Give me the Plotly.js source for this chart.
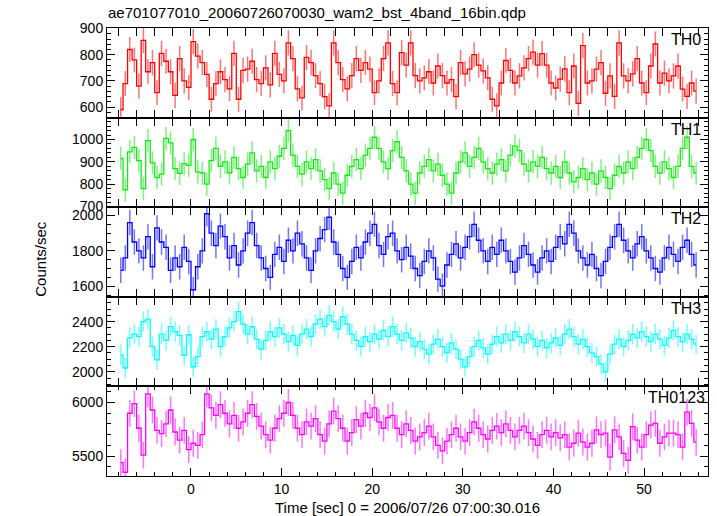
<!DOCTYPE html>
<html>
<head>
<meta charset="utf-8">
<script src="https://cdn.plot.ly/plotly-3.0.1.min.js"></script>
<style>html,body{margin:0;padding:0;background:#fff;}#chart{width:717px;height:516px;}</style>
</head>
<body>
<div id="chart"></div>
<script>
// Bin centres (seconds, relative to 2006/07/26 07:00:30.016), 0.5 s bins
const time = [-7.75,-7.25,-6.75,-6.25,-5.75,-5.25,-4.75,-4.25,-3.75,-3.25,-2.75,-2.25,-1.75,-1.25,-0.75,-0.25,
0.25,0.75,1.25,1.75,2.25,2.75,3.25,3.75,4.25,4.75,5.25,5.75,6.25,6.75,7.25,7.75,
8.25,8.75,9.25,9.75,10.25,10.75,11.25,11.75,12.25,12.75,13.25,13.75,14.25,14.75,15.25,15.75,
16.25,16.75,17.25,17.75,18.25,18.75,19.25,19.75,20.25,20.75,21.25,21.75,22.25,22.75,23.25,23.75,
24.25,24.75,25.25,25.75,26.25,26.75,27.25,27.75,28.25,28.75,29.25,29.75,30.25,30.75,31.25,31.75,
32.25,32.75,33.25,33.75,34.25,34.75,35.25,35.75,36.25,36.75,37.25,37.75,38.25,38.75,39.25,39.75,
40.25,40.75,41.25,41.75,42.25,42.75,43.25,43.75,44.25,44.75,45.25,45.75,46.25,46.75,47.25,47.75,
48.25,48.75,49.25,49.75,50.25,50.75,51.25,51.75,52.25,52.75,53.25,53.75,54.25,54.75,55.25,55.75];
const halfBin = 0.25;

const th0 = [590,690,820,780,680,855,735,770,655,805,775,735,645,785,700,675,
850,795,770,725,630,690,735,705,670,805,630,740,745,775,705,690,
750,685,805,725,700,845,785,670,635,790,770,720,690,640,605,845,
770,705,670,720,785,740,770,745,655,700,785,845,690,655,808,760,
845,720,700,712,735,692,757,720,692,705,640,770,727,745,800,760,
738,712,630,605,692,778,740,692,719,750,785,810,760,804,760,692,
673,707,746,655,757,614,835,692,700,745,770,653,719,641,845,719,
700,727,785,692,655,757,841,692,730,700,719,757,669,641,692,661];

const th1 = [915,775,945,965,905,780,995,895,830,845,1005,985,870,848,892,884,
1000,855,850,800,905,960,880,900,850,920,870,830,890,940,860,880,
830,900,870,925,960,1040,930,880,845,900,870,910,860,820,780,850,
800,760,840,880,910,870,930,960,1010,960,900,870,950,990,920,860,
800,760,850,880,910,860,890,840,800,760,850,900,940,880,920,960,
900,870,850,890,910,860,930,970,950,890,860,900,880,920,870,850,
880,830,900,850,810,830,870,820,850,800,860,830,780,840,880,850,
900,870,920,960,1000,950,880,850,900,870,830,880,960,1010,880,850];

const th2 = [1690,1760,1960,1850,1800,1760,1880,1710,1930,1850,1820,1690,1760,1710,1820,1740,
1580,1710,1800,2010,1900,1830,1940,1880,1760,1830,1720,1800,1900,1960,1830,1760,
1700,1650,1780,1820,1740,1860,1800,1900,1840,1760,1690,1800,1870,1920,1990,1850,
1780,1700,1650,1740,1820,1760,1850,1900,1950,1830,1780,1880,1900,1800,1750,1820,
1770,1700,1660,1740,1800,1760,1640,1600,1720,1780,1840,1760,1820,1880,1950,1860,
1800,1740,1820,1780,1860,1800,1740,1680,1760,1830,1780,1720,1680,1760,1800,1740,
1820,1880,1840,1950,1900,1800,1760,1720,1780,1700,1660,1740,1820,1880,1950,1860,
1800,1760,1840,1880,1800,1760,1700,1680,1760,1820,1780,1740,1820,1860,1780,1720];

const th3 = [2135,2030,2270,2300,2280,2400,2420,2200,2095,2300,2250,2360,2320,2290,2130,2295,
2040,2120,2280,2320,2260,2340,2200,2280,2350,2400,2480,2380,2300,2360,2260,2180,
2250,2320,2280,2350,2300,2240,2290,2210,2300,2340,2280,2380,2420,2360,2450,2400,
2340,2440,2380,2300,2250,2200,2280,2240,2300,2260,2330,2280,2360,2300,2250,2310,
2270,2200,2240,2180,2140,2220,2260,2200,2150,2230,2180,2100,2040,2120,2200,2250,
2190,2140,2220,2280,2230,2300,2250,2320,2280,2230,2300,2260,2200,2250,2190,2230,
2270,2210,2300,2340,2280,2220,2260,2200,2150,2120,2060,2000,2140,2220,2260,2200,
2250,2300,2270,2320,2280,2240,2300,2260,2210,2270,2330,2280,2240,2300,2260,2220];

const th0123 = [5440,5350,5900,5990,5760,5510,6080,5930,5740,5710,5800,5930,5725,5650,5740,5560,
5620,5600,5700,6080,5950,5880,5980,5900,5800,5880,5760,5820,5900,5980,5870,5780,
5700,5650,5760,5850,5900,6000,5880,5760,5700,5820,5780,5850,5700,5640,5800,5920,
5850,5760,5640,5720,5840,5780,5900,5860,5950,5820,5760,5860,5880,5760,5700,5800,
5740,5640,5680,5720,5780,5680,5600,5550,5640,5700,5760,5680,5640,5720,5820,5760,
5700,5660,5740,5780,5720,5800,5740,5680,5740,5780,5720,5660,5600,5700,5740,5680,
5720,5670,5700,5585,5620,5715,5630,5585,5620,5745,5700,5715,5490,5745,5680,5525,
5460,5775,5650,5585,5700,5790,5805,5620,5680,5715,5715,5700,5585,5910,5805,5630];

// Approximate 1-sigma error per panel (counts/sec)
const errs = [48, 52, 72, 80, 125];
const names = ['TH0','TH1','TH2','TH3','TH0123'];
const series = [th0, th1, th2, th3, th0123];
const colors = ['255,0,0','20,235,20','0,0,255','0,255,255','255,0,255'];
const ranges = [[560,902],[697,1098],[1540,2047],[1883,2598],[5315,6150]];
const majors = [100,100,200,200,500];
const minors = [20,20,50,50,100];
const labelX = [0.992,0.992,0.992,0.992,0.999];

const FONT = 'Liberation Sans, Arial, Helvetica, sans-serif';
const traces = [];
const layout = {
  width: 717, height: 516,
  margin: {l: 107, r: 9, t: 28, b: 40},
  paper_bgcolor: '#fff', plot_bgcolor: '#fff',
  showlegend: false,
  font: {family: FONT, size: 14, color: '#000'},
  xaxis: {
    range: [-9.27, 57.06], anchor: 'y5', domain: [0, 1],
    tick0: 0, dtick: 10, ticks: 'inside', ticklen: 8, tickcolor: '#000', tickwidth: 1,
    minor: {dtick: 2, ticks: 'inside', ticklen: 4, tickcolor: '#000', tickwidth: 1},
    showline: true, linecolor: '#000', linewidth: 1, mirror: 'allticks',
    showgrid: false, zeroline: false,
    tickfont: {family: FONT, size: 14, color: '#000'}
  },
  annotations: [],
  title: {
    text: 'ae701077010_20060726070030_wam2_bst_4band_16bin.qdp',
    x: 108/717, xanchor: 'left', xref: 'container', y: 1 - 13/516, yanchor: 'middle', yref: 'container',
    font: {family: FONT, size: 15, color: '#000'}
  }
};

for (let k = 0; k < 5; k++) {
  const yname = k === 0 ? 'y' : 'y' + (k + 1);
  const yax = k === 0 ? 'yaxis' : 'yaxis' + (k + 1);
  const top = 1 - 0.2 * k, bot = 1 - 0.2 * (k + 1);
  traces.push({
    type: 'scatter', mode: 'lines', x: time, y: series[k], xaxis: 'x', yaxis: yname,
    line: {shape: 'hvh', width: 1.3, color: 'rgb(' + colors[k] + ')'},
    error_y: {type: 'constant', value: errs[k], thickness: 1.5, width: 0, color: 'rgba(' + colors[k] + ',0.55)'},
    hoverinfo: 'skip'
  });
  layout[yax] = {
    domain: [bot, top], anchor: 'x', range: ranges[k],
    dtick: majors[k], ticks: 'inside', ticklen: 8, tickcolor: '#000', tickwidth: 1,
    minor: {dtick: minors[k], ticks: 'inside', ticklen: 4, tickcolor: '#000', tickwidth: 1},
    showline: true, linecolor: '#000', linewidth: 1, mirror: 'ticks',
    showgrid: false, zeroline: false,
    tickfont: {family: FONT, size: 14, color: '#000'}
  };
  layout.annotations.push({
    text: names[k], xref: 'paper', yref: 'paper', x: labelX[k], y: top,
    xanchor: 'right', yanchor: 'top', yshift: -1, showarrow: false,
    font: {family: FONT, size: 16, color: '#000'}
  });
}
layout.annotations.push({
  text: 'Counts/sec', xref: 'paper', yref: 'paper', x: (41 - 107) / 601, y: 0.485,
  xanchor: 'center', yanchor: 'middle', textangle: -90, showarrow: false,
  font: {family: FONT, size: 15, color: '#000'}
});
layout.annotations.push({
  text: 'Time [sec] 0 = 2006/07/26 07:00:30.016', xref: 'paper', yref: 'paper',
  x: 0.5, y: -(507 - 475.7) / 448, xanchor: 'center', yanchor: 'middle', showarrow: false,
  font: {family: FONT, size: 15, color: '#000'}
});

Plotly.newPlot('chart', traces, layout, {displayModeBar: false, staticPlot: true});
</script>
</body>
</html>
